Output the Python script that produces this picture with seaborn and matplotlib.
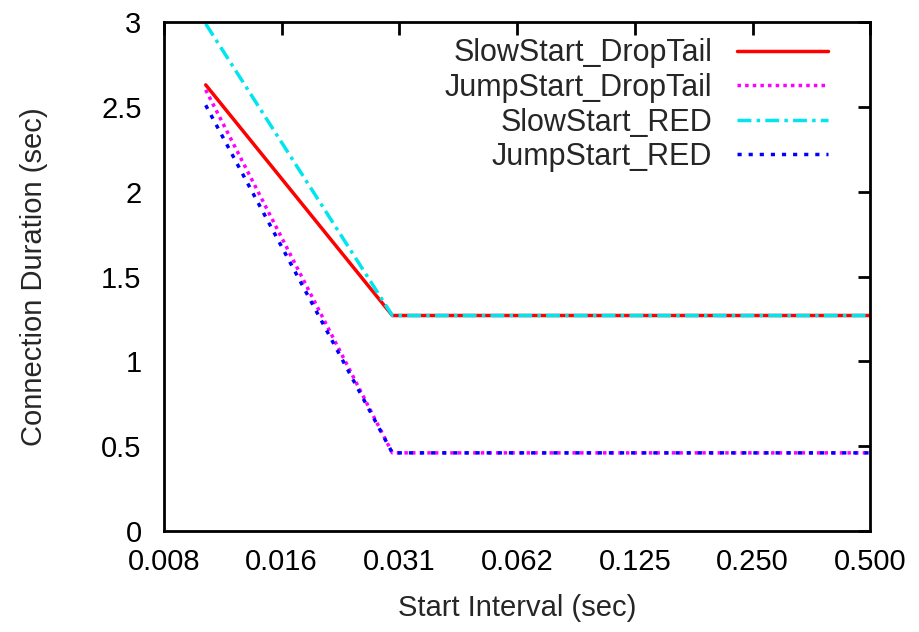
import matplotlib
matplotlib.use("Agg")
import matplotlib.pyplot as plt
import seaborn as sns
import pandas as pd
from matplotlib.ticker import FixedLocator, FixedFormatter

x_vals = [0.01, 0.03, 0.0625, 0.125, 0.25, 0.5]
slow_droptail = [2.63, 1.27, 1.27, 1.27, 1.27, 1.27]
jump_droptail = [2.60, 0.46, 0.46, 0.46, 0.46, 0.46]
slow_red = [2.99, 1.27, 1.27, 1.27, 1.27, 1.27]
jump_red = [2.51, 0.46, 0.46, 0.46, 0.46, 0.46]

series_names = ["SlowStart_DropTail", "JumpStart_DropTail", "SlowStart_RED", "JumpStart_RED"]
series_vals = [slow_droptail, jump_droptail, slow_red, jump_red]

tick_pos = [2**-7, 2**-6, 2**-5, 2**-4, 2**-3, 2**-2, 2**-1]
tick_labels = ["0.008", "0.016", "0.031", "0.062", "0.125", "0.250", "0.500"]

sns.set_style("white")
plt.rcParams['font.family'] = ['Liberation Sans', 'DejaVu Sans']

colors = ["#ff0000", "#ff00ff", "#00e5ee", "#0000ff"]
styles = ["-", (0, (1, 1.2)), (0, (4, 1.5, 1, 1.5)), (0, (1.2, 2))]
widths = [2.5, 2.5, 2.5, 2.5]

fig, ax = plt.subplots(figsize=(9.2, 6.32), dpi=100)
fig.subplots_adjust(left=0.178, right=0.946, top=0.965, bottom=0.160)

for name, vals, c, ls, lw in zip(series_names, series_vals, colors, styles, widths):
    df = pd.DataFrame({"x": x_vals, "y": vals})
    sns.lineplot(data=df, x="x", y="y", ax=ax, color=c, linestyle=ls, linewidth=lw, label=name)

ax.set_xscale("log", base=2)
ax.set_xlim(2**-7, 2**-1)
ax.set_ylim(0, 3)
ax.xaxis.set_major_locator(FixedLocator(tick_pos))
ax.xaxis.set_major_formatter(FixedFormatter(tick_labels))
ax.xaxis.set_minor_locator(FixedLocator([]))
ax.set_yticks([0, 0.5, 1, 1.5, 2, 2.5, 3])
ax.set_yticklabels(["0", "0.5", "1", "1.5", "2", "2.5", "3"])

ax.tick_params(axis="both", which="major", direction="in", length=9, width=2,
               top=True, right=True, labelsize=21, colors="black")
ax.tick_params(axis="x", pad=12)
ax.tick_params(axis="y", pad=16)
for s in ax.spines.values():
    s.set_linewidth(2)
    s.set_color("black")
    s.set_visible(True)

ax.set_xlabel("Start Interval (sec)", fontsize=21, labelpad=13)
ax.set_ylabel("Connection Duration (sec)", fontsize=21, labelpad=38)

leg = ax.legend(loc="upper right", frameon=False, markerfirst=False, fontsize=22,
                handlelength=3.0, handletextpad=0.8, borderaxespad=0.0, labelspacing=0.15,
                bbox_to_anchor=(0.958, 0.992))
for t in leg.get_texts():
    t.set_ha("right")
leg._legend_box.align = "right"

fig.savefig("out.png", dpi=100)
